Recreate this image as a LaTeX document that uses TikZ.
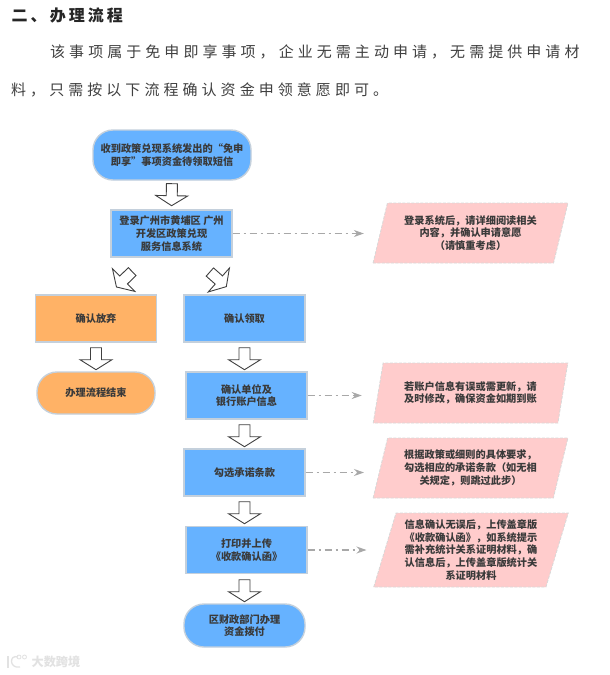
\documentclass[tikz,border=0pt]{standalone}
\usepackage{fontspec}
\setmainfont{Noto Sans CJK SC}
\usetikzlibrary{calc,shapes.geometric,arrows.meta}
\definecolor{bluefill}{HTML}{66B2FF}
\definecolor{orangefill}{HTML}{FFB266}
\definecolor{pinkfill}{HTML}{FFCCCC}
\definecolor{boxedge}{HTML}{C4D0DC}
\definecolor{noteedge}{HTML}{D8D8D8}
\definecolor{inktext}{HTML}{3A3A3A}
\definecolor{arrowedge}{HTML}{404040}
\definecolor{linkgray}{HTML}{A8A8A8}
\definecolor{markgray}{HTML}{E2E2E2}
\tikzset{
  x=1pt,y=-1pt,
  boxbase/.style={draw=boxedge,line width=1.4pt,text=inktext,align=center,inner sep=0pt,
    font=\fontsize{10.2}{12.7}\selectfont\bfseries},
  bluebox/.style={boxbase,rectangle,fill=bluefill,minimum width=121,minimum height=47},
  orangebox/.style={boxbase,rectangle,fill=orangefill,minimum width=121,minimum height=47},
  bluepill/.style={boxbase,rectangle,fill=bluefill,rounded corners=20pt},
  orangepill/.style={boxbase,rectangle,fill=orangefill,rounded corners=20pt},
  notebox/.style={trapezium,trapezium stretches=true,trapezium left angle=72,trapezium right angle=108,
    fill=pinkfill,draw=noteedge,dashed,dash pattern=on 3pt off 1.5pt,line width=.8pt,
    minimum width=195,minimum height=60,inner sep=0pt,text=inktext,align=center,
    font=\fontsize{10.2}{12.7}\selectfont\bfseries},
  headline/.style={anchor=west,inner sep=0pt,text=black!85,font=\fontsize{16}{18}\selectfont\bfseries\addfontfeature{LetterSpace=19}},
  bodyline/.style={anchor=west,inner sep=0pt,text=black!75,font=\fontsize{15}{18}\selectfont\addfontfeature{LetterSpace=27}},
  marktext/.style={inner sep=0pt,text=markgray,font=\fontsize{12.2}{14}\selectfont\bfseries},
  notelink/.style={draw=linkgray,line width=1.1pt,dash pattern=on 7pt off 4pt on 2pt off 4pt,
    -{Stealth[length=10pt,width=7pt,fill=linkgray]}},
  blockarrow/.style={draw=arrowedge,fill=white,line width=.9pt,line join=miter,
    to path={let \p1=($(\tikztostart)!#1pt!(\tikztotarget)$),
                 \p2=($(\tikztostart)!#1pt+22pt!(\tikztotarget)$),
                 \p3=($(\p1)!12pt!(\p2)$) in
      ($(\p1)!5.5pt!90:(\p2)$) -- ($(\p1)!5.5pt!-90:(\p2)$) -- ($(\p3)!5.5pt!-90:(\p2)$)
      -- ($(\p3)!16pt!-90:(\p2)$) -- (\p2) -- ($(\p3)!16pt!90:(\p2)$)
      -- ($(\p3)!5.5pt!90:(\p2)$) -- cycle}},
}
\begin{document}
\begin{tikzpicture}
\useasboundingbox (0,0) rectangle (610,675);
\fill[white] (0,0) rectangle (610,675);

\node[headline] (head) at (11.5,15) {二、办理流程};
\node[bodyline] (para1) at (50,52) {该事项属于免申即享事项，企业无需主动申请，无需提供申请材};
\node[bodyline] (para2) at (11,89.5) {料，只需按以下流程确认资金申领意愿即可。};

\node[bluepill,minimum width=158,minimum height=50] (start) at (172,155) {收到政策兑现系统发出的“免申\\即享”事项资金待领取短信};
\node[bluebox] (login) at (171.5,233.5) {登录广州市黄埔区 广州\\开发区政策兑现\\服务信息系统};
\node[orangebox] (giveup) at (96,318.5) {确认放弃};
\node[bluebox] (claim) at (244.5,318.5) {确认领取};
\node[orangepill,minimum width=118,minimum height=42] (finish) at (96,393) {办理流程结束};
\node[bluebox] (bank) at (246.5,395.5) {确认单位及\\银行账户信息};
\node[bluebox] (tick) at (244.5,472.5) {勾选承诺条款};
\node[bluebox] (print) at (246.5,550) {打印并上传\\《收款确认函》};
\node[bluepill,minimum width=121,minimum height=43] (pay) at (244.5,625.5) {区财政部门办理\\资金拨付};

\node[notebox] (noteA) at (470.5,233) {登录系统后，请详细阅读相关\\内容，并确认申请意愿\\（请慎重考虑）};
\node[notebox] (noteB) at (470.5,393) {若账户信息有误或需更新，请\\及时修改，确保资金如期到账};
\node[notebox] (noteC) at (470.5,468) {根据政策或细则的具体要求，\\勾选相应的承诺条款（如无相\\关规定，则跳过此步）};
\node[notebox,minimum height=74] (noteD) at (471,550) {信息确认无误后，上传盖章版\\《收款确认函》，如系统提示\\需补充统计关系证明材料，确\\认信息后，上传盖章版统计关\\系证明材料};

\coordinate (loginL) at ($(login.south west)+(36,0)$);
\coordinate (giveupT) at ($(giveup.north)+(13,0)$);
\coordinate (loginR) at ($(login.south east)+(-39,0)$);
\coordinate (claimT) at ($(claim.north)+(-9.5,0)$);
\coordinate (claimB) at (claim.south);
\coordinate (bankT) at (claim.south |- bank.north);
\coordinate (bankB) at (tick.north |- bank.south);
\coordinate (printT) at (tick.south |- print.north);
\coordinate (printB) at (pay.north |- print.south);

\draw[blockarrow=3] (start.south) to (login.north);
\draw[blockarrow=19.8] (loginL) to (giveupT);
\draw[blockarrow=21.6] (loginR) to (claimT);
\draw[blockarrow=5] (giveup.south) to (finish.north);
\draw[blockarrow=5] (claimB) to (bankT);
\draw[blockarrow=5] (bankB) to (tick.north);
\draw[blockarrow=5] (tick.south) to (printT);
\draw[blockarrow=5.5] (printB) to (pay.north);

\draw[notelink,shorten >=16pt] (login.east) -- (login.east -| noteA.west);
\draw[notelink,shorten >=16pt] (bank.east) -- (bank.east -| noteB.west);
\draw[notelink,shorten >=16pt] (tick.east) -- (tick.east -| noteC.west);
\draw[notelink,shorten >=18pt] (print.east) -- (print.east -| noteD.west);

\draw[markgray,line width=1.3pt] (18,657) .. controls (9,654) and (9,669) .. (20,667);
\draw[markgray,line width=1.3pt] (8,656) -- (8,668);
\draw[markgray,line width=.8pt] (19,657) circle[radius=2];
\draw[markgray,line width=.8pt] (24.5,657) circle[radius=2];
\node[marktext] (mark) at (56,662) {大数跨境};
\end{tikzpicture}
\end{document}
